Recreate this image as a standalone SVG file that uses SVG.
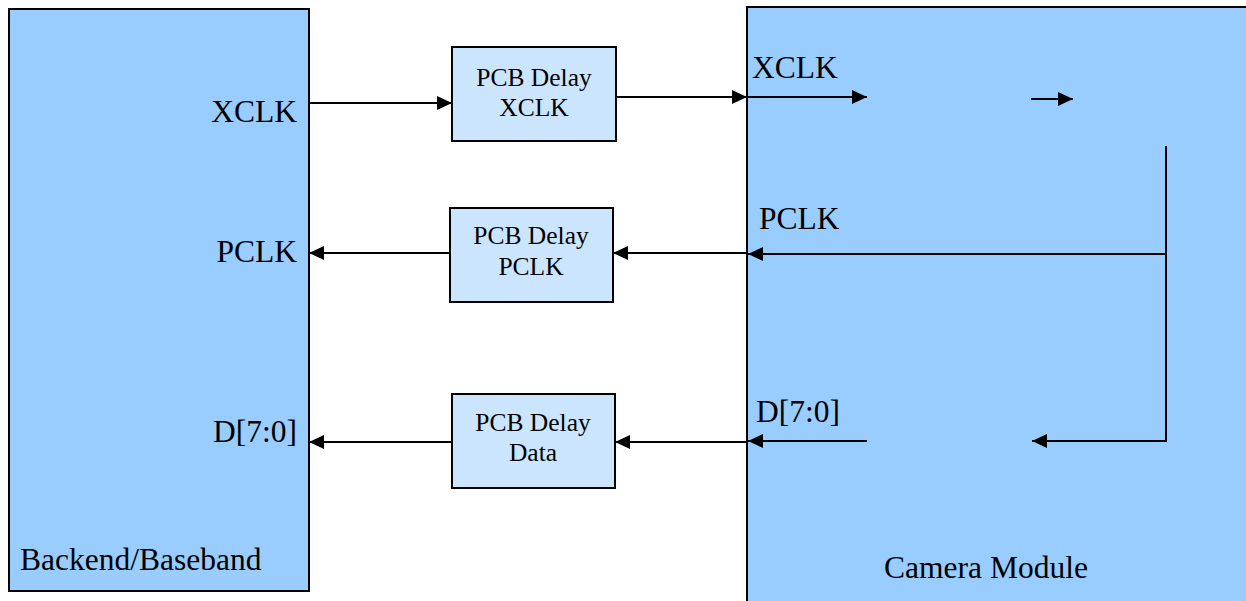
<svg xmlns="http://www.w3.org/2000/svg" width="1246" height="601" viewBox="0 0 1246 601">
<style>
.blk{fill:#99CCFF;stroke:#000;stroke-width:2}
.dly{fill:#CCE5FF;stroke:#000;stroke-width:2}
.lbl{font-family:'Liberation Serif','DejaVu Serif',serif;font-size:31.5px;fill:#000}
.dt{font-family:'Liberation Serif','DejaVu Serif',serif;font-size:25.5px;fill:#000;text-anchor:middle}
.w{fill:none;stroke:#000;stroke-width:2}
</style>
<defs>
<marker id="ah" markerUnits="userSpaceOnUse" markerWidth="16" markerHeight="14" refX="15" refY="7" orient="auto">
<path d="M0,0 L15,7 L0,14 Z" fill="#000"/>
</marker>
</defs>
<rect width="1246" height="601" fill="#fff"/>
<g id="backend">
<rect class="blk" x="9" y="9" width="300" height="582"/>
<text class="lbl" x="297" y="122" text-anchor="end">XCLK</text>
<text class="lbl" x="297" y="262" text-anchor="end">PCLK</text>
<text class="lbl" x="297" y="442" text-anchor="end">D[7:0]</text>
<text class="lbl" x="20" y="570">Backend/Baseband</text>
</g>
<g id="camera">
<rect class="blk" x="747" y="7" width="520" height="610"/>
<text class="lbl" x="752" y="78">XCLK</text>
<text class="lbl" x="759" y="229">PCLK</text>
<text class="lbl" x="756" y="422">D[7:0]</text>
<text class="lbl" x="986" y="578" text-anchor="middle">Camera Module</text>
</g>
<g id="delay-xclk">
<rect class="dly" x="452" y="47" width="164" height="94"/>
<text class="dt" x="534" y="86">PCB Delay</text>
<text class="dt" x="534" y="116">XCLK</text>
</g>
<g id="delay-pclk">
<rect class="dly" x="450" y="208" width="163" height="94"/>
<text class="dt" x="531" y="244">PCB Delay</text>
<text class="dt" x="531" y="275">PCLK</text>
</g>
<g id="delay-data">
<rect class="dly" x="452" y="394" width="163" height="94"/>
<text class="dt" x="533" y="431">PCB Delay</text>
<text class="dt" x="533" y="461">Data</text>
</g>
<g id="connectors">
<line class="w" x1="309" y1="103" x2="452" y2="103" marker-end="url(#ah)"/>
<line class="w" x1="616" y1="97" x2="747" y2="97" marker-end="url(#ah)"/>
<line class="w" x1="747" y1="97" x2="867" y2="97" marker-end="url(#ah)"/>
<line class="w" x1="1031" y1="99" x2="1073" y2="99" marker-end="url(#ah)"/>
<polyline class="w" points="1166,146 1166,441 1032,441" marker-end="url(#ah)"/>
<line class="w" x1="1166" y1="254" x2="748" y2="254" marker-end="url(#ah)"/>
<line class="w" x1="747" y1="253" x2="613" y2="253" marker-end="url(#ah)"/>
<line class="w" x1="450" y1="253" x2="309" y2="253" marker-end="url(#ah)"/>
<line class="w" x1="867" y1="441" x2="748" y2="441" marker-end="url(#ah)"/>
<line class="w" x1="747" y1="442" x2="615" y2="442" marker-end="url(#ah)"/>
<line class="w" x1="452" y1="442" x2="309" y2="442" marker-end="url(#ah)"/>
</g>
</svg>
